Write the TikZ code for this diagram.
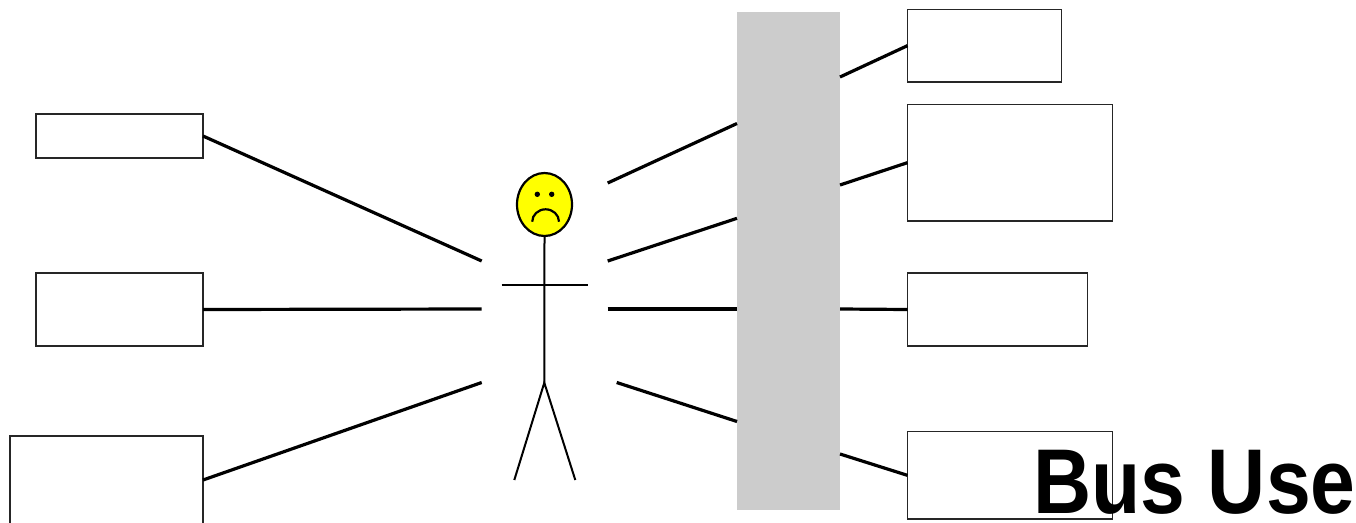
\documentclass[tikz,border=0pt]{standalone}
\usepackage{fontspec}
\setmainfont{Liberation Sans}
\usetikzlibrary{shapes.geometric}
\definecolor{barfill}{HTML}{CCCCCC}
\definecolor{headfill}{HTML}{FFFF00}
\tikzset{
  box/.style={draw=black!85, line width=1.2pt, fill=white, rectangle, anchor=north west, inner sep=0pt, outer sep=0pt},
  conn/.style={draw=black, line width=3.2pt},
  figline/.style={draw=black, line width=2pt},
}
\begin{document}
\begin{tikzpicture}[x=1pt, y=-1pt]
\useasboundingbox (0,0) rectangle (1356,522);
\fill[white] (0,0) rectangle (1356,522);
% left boxes
\node[box, minimum width=167pt, minimum height=44pt] (lb1) at (36,114) {};
\node[box, minimum width=167pt, minimum height=73pt] (lb2) at (36,273) {};
\node[box, minimum width=193pt, minimum height=88pt] (lb3) at (10,436) {};
% right boxes
\node[box, minimum width=154pt, minimum height=72.7pt] (rb1) at (907.5,9.3) {};
\node[box, minimum width=205pt, minimum height=116.7pt] (rb2) at (907.5,104.3) {};
\node[box, minimum width=180pt, minimum height=73pt] (rb3) at (907.5,273) {};
\node[box, minimum width=205pt, minimum height=87.3pt] (rb4) at (907.5,431.7) {};
% bar
\node[rectangle, fill=barfill, draw=none, anchor=north west, inner sep=0pt, outer sep=0pt, minimum width=103pt, minimum height=498pt] (bar) at (737,12) {};
% free ends near the figure
\coordinate (fl1) at (481.7,261);
\coordinate (fl2) at (481.7,309);
\coordinate (fl3) at (481.7,382.5);
\coordinate (fr1) at (607.7,183);
\coordinate (fr2) at (607.7,261);
\coordinate (fr3) at (607.7,309);
\coordinate (fr4) at (616.7,382.5);
% points on the bar edges
\coordinate (bw1) at (bar.west |- 0,123.5);
\coordinate (bw2) at (bar.west |- 0,218.3);
\coordinate (bw3) at (bar.west |- 0,309);
\coordinate (bw4) at (bar.west |- 0,421.5);
\coordinate (be1) at (bar.east |- 0,77);
\coordinate (be2) at (bar.east |- 0,185);
\coordinate (be3) at (bar.east |- 0,309);
\coordinate (be4) at (bar.east |- 0,454);
% connectors
\draw[conn] (lb1.east) -- (fl1);
\draw[conn] (lb2.east) -- (fl2);
\draw[conn] (lb3.east) -- (fl3);
\draw[conn] (fr1) -- (bw1);
\draw[conn] (fr2) -- (bw2);
\draw[conn] (fr3) -- (bw3);
\draw[conn] (fr4) -- (bw4);
\draw[conn] (be1) -- (rb1.west);
\draw[conn] (be2) -- (rb2.west);
\draw[conn] (be3) -- (rb3.west);
\draw[conn] (be4) -- (rb4.west);
% stick figure
\node[ellipse, draw=black, line width=2.2pt, fill=headfill, minimum width=55pt, minimum height=63pt, inner sep=0pt] (head) at (544.5,204.5) {};
\coordinate (hip) at (544.3,382.7);
\draw[figline] (head.south) -- (hip);
\coordinate (armL) at (501.7,284.7);
\coordinate (armR) at (587.7,284.7);
\draw[figline] (armL) -- (armR);
\coordinate (footL) at (514.3,480);
\coordinate (footR) at (575.3,480);
\draw[figline] (footL) -- (hip) -- (footR);
\fill[black] (537.3,194.3) circle (2.7pt);
\fill[black] (551.7,194.3) circle (2.7pt);
\draw[black, line width=2.2pt] (532.2,221.7) arc[start angle=180, end angle=0, x radius=13.4pt, y radius=12.4pt];
% title
\node[anchor=base west, inner sep=0pt, font=\bfseries\fontsize{92}{92}\selectfont] (title) at (1033.4,513.3) {\scalebox{0.875}[1]{Bus Use}};
\end{tikzpicture}
\end{document}
